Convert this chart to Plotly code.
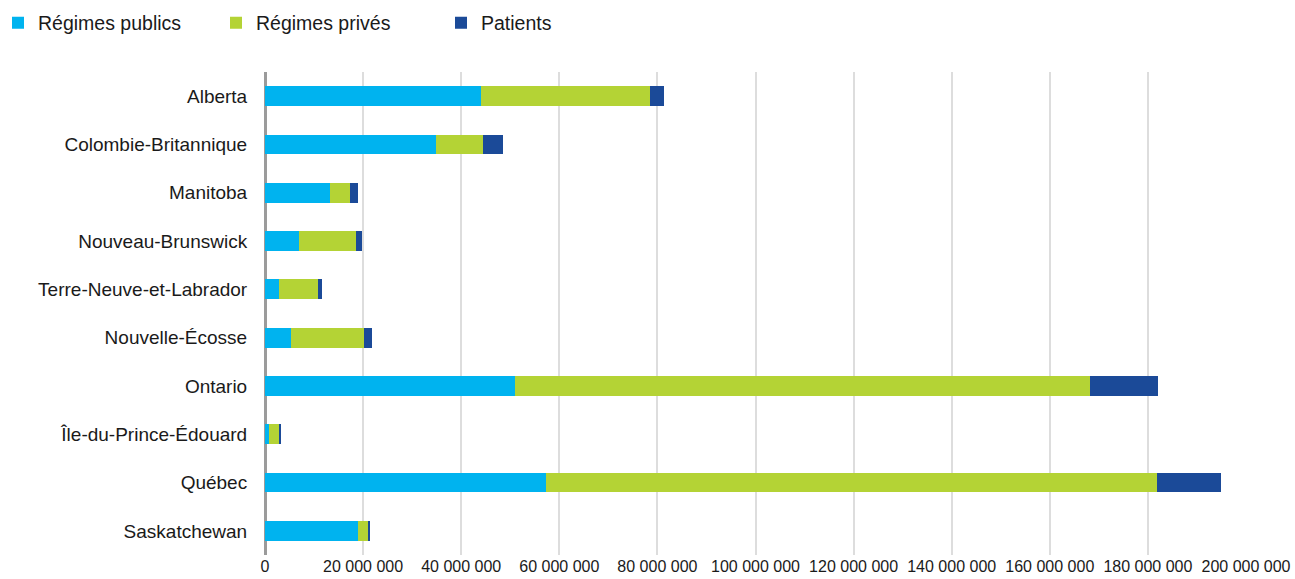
import plotly.graph_objects as go

# Provinces, top to bottom
provinces = [
    "Alberta",
    "Colombie-Britannique",
    "Manitoba",
    "Nouveau-Brunswick",
    "Terre-Neuve-et-Labrador",
    "Nouvelle-Écosse",
    "Ontario",
    "Île-du-Prince-Édouard",
    "Québec",
    "Saskatchewan",
]

# Spending by payer (dollars)
regimes_publics = [44.0e6, 34.9e6, 13.3e6, 6.9e6, 2.9e6, 5.3e6, 51.0e6, 0.8e6, 57.3e6, 18.9e6]
regimes_prives = [34.5e6, 9.6e6, 4.0e6, 11.6e6, 8.0e6, 14.9e6, 117.2e6, 2.1e6, 124.5e6, 2.1e6]
patients = [2.8e6, 4.1e6, 1.6e6, 1.2e6, 0.8e6, 1.6e6, 13.9e6, 0.4e6, 13.2e6, 0.3e6]

series_names = ["Régimes publics", "Régimes privés", "Patients"]
series_values = [regimes_publics, regimes_prives, patients]
series_colors = ["#00B3EF", "#B4D335", "#1B4A98"]
legend_ids = ["legend", "legend2", "legend3"]
legend_left_px = [0, 216, 441]
legend_indent = [-2, 0, 0]

W, H = 1295, 579
FONT = "Liberation Sans, Arial, Helvetica, sans-serif"

fig = go.Figure()
for name, vals, color, lg in zip(series_names, series_values, series_colors, legend_ids):
    fig.add_trace(
        go.Bar(
            y=provinces,
            x=vals,
            name=name,
            orientation="h",
            marker=dict(color=color, line=dict(width=0)),
            legend=lg,
            showlegend=True,
        )
    )

legend_common = dict(
    orientation="h",
    xref="container",
    yref="container",
    xanchor="left",
    yanchor="middle",
    y=1 - 23 / H,
    font=dict(family=FONT, size=19.5, color="#1a1a1a"),
    bgcolor="rgba(0,0,0,0)",
    borderwidth=0,
)

legends = {}
for lg, left, ind in zip(legend_ids, legend_left_px, legend_indent):
    legends[lg] = dict(x=left / W, indentation=ind, **legend_common)

fig.update_layout(
    width=W,
    height=H,
    showlegend=True,
    margin=dict(l=265, r=49, t=72, b=24),
    paper_bgcolor="white",
    plot_bgcolor="white",
    barmode="stack",
    bargap=0.59,
    separators=", ",
    font=dict(family=FONT, color="#1a1a1a"),
    xaxis=dict(
        range=[0, 200e6],
        dtick=20e6,
        tickformat=",d",
        showgrid=True,
        gridcolor="#DDDDDD",
        gridwidth=1.5,
        zeroline=True,
        zerolinecolor="#9B9B9B",
        zerolinewidth=2.5,
        showline=False,
        ticks="",
        tickfont=dict(family=FONT, size=16, color="#1a1a1a"),
        automargin=False,
    ),
    yaxis=dict(
        categoryorder="array",
        categoryarray=provinces,
        autorange="reversed",
        showgrid=False,
        showline=False,
        zeroline=False,
        ticks="outside",
        ticklen=13,
        tickcolor="rgba(0,0,0,0)",
        tickfont=dict(family=FONT, size=19, color="#1a1a1a"),
        automargin=False,
    ),
    **legends,
)

fig.write_html("out.html")
